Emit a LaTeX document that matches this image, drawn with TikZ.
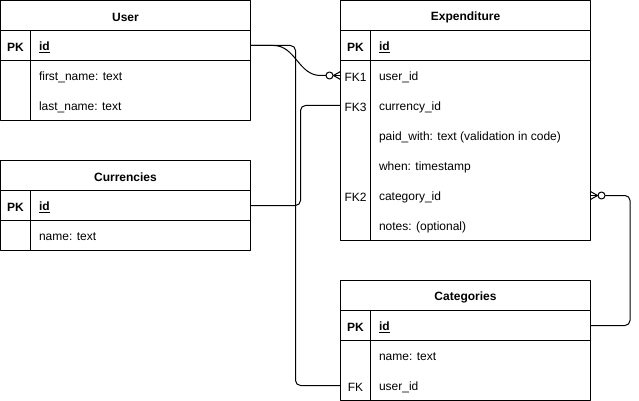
\documentclass[tikz,border=0pt]{standalone}
\usepackage{fontspec}
\setmainfont{Liberation Sans}
\begin{document}
\begin{tikzpicture}[x=1pt,y=-1pt, line width=1pt, line join=round,
  font=\fontsize{12}{14}\selectfont,
  hdr/.style={draw, anchor=north west, inner sep=0pt, outer sep=0pt, minimum height=30pt, minimum width=250pt},
  hdrt/.style={anchor=center, inner sep=0pt, yshift=-1.5pt, font=\fontsize{12}{14}\selectfont\bfseries},
  rowbox/.style={anchor=north west, inner sep=0pt, outer sep=0pt, minimum height=30pt, minimum width=250pt},
  keyt/.style={anchor=center, inner sep=0pt, yshift=-1.5pt},
  fld/.style={anchor=west, inner sep=0pt, yshift=-1.5pt},
  conn/.style={line width=1pt, rounded corners=5pt},
  zmany/.pic={\draw (0,-4) -- (-7,0) -- (0,4); \draw (0,0) -- (-7,0); \draw[fill=white] (-11,0) circle[radius=3.5pt];}
]
\useasboundingbox (0,0) rectangle (639,401);

% ---------------- User ----------------
\node[hdr] (user) at (0.5,0.5) {};
\node[hdrt] (user-t) at (user.center) {User};
\node[rowbox, draw] (user-id) at (0.5,30.5) {};
\node[rowbox] (user-r1) at (0.5,60.5) {};
\node[rowbox] (user-r2) at (0.5,90.5) {};
\draw (user-id.south west) rectangle (user-r2.south east);
\draw ([xshift=30pt]user-id.north west) -- ([xshift=30pt]user-r2.south west);
\node[keyt, font=\fontsize{12}{14}\selectfont\bfseries] (user-pk) at ([xshift=15pt]user-id.west) {PK};
\node[fld] (user-idt) at ([xshift=38pt]user-id.west) {\textbf{\underline{id}}};
\node[fld] (user-r1t) at ([xshift=38pt]user-r1.west) {first\_name: text};
\node[fld] (user-r2t) at ([xshift=38pt]user-r2.west) {last\_name: text};

% ---------------- Currencies ----------------
\node[hdr] (cur) at (0.5,160.5) {};
\node[hdrt] (cur-t) at (cur.center) {Currencies};
\node[rowbox, draw] (cur-id) at (0.5,190.5) {};
\node[rowbox, draw] (cur-r1) at (0.5,220.5) {};
\draw ([xshift=30pt]cur-id.north west) -- ([xshift=30pt]cur-r1.south west);
\node[keyt, font=\fontsize{12}{14}\selectfont\bfseries] (cur-pk) at ([xshift=15pt]cur-id.west) {PK};
\node[fld] (cur-idt) at ([xshift=38pt]cur-id.west) {\textbf{\underline{id}}};
\node[fld] (cur-r1t) at ([xshift=38pt]cur-r1.west) {name: text};

% ---------------- Expenditure ----------------
\node[hdr] (exp) at (340.5,0.5) {};
\node[hdrt] (exp-t) at (exp.center) {Expenditure};
\node[rowbox, draw] (exp-id) at (340.5,30.5) {};
\node[rowbox] (exp-r1) at (340.5,60.5) {};
\node[rowbox] (exp-r2) at (340.5,90.5) {};
\node[rowbox] (exp-r3) at (340.5,120.5) {};
\node[rowbox] (exp-r4) at (340.5,150.5) {};
\node[rowbox] (exp-r5) at (340.5,180.5) {};
\node[rowbox] (exp-r6) at (340.5,210.5) {};
\draw (exp-id.south west) rectangle (exp-r6.south east);
\draw ([xshift=30pt]exp-id.north west) -- ([xshift=30pt]exp-r6.south west);
\node[keyt, font=\fontsize{12}{14}\selectfont\bfseries] (exp-pk) at ([xshift=15pt]exp-id.west) {PK};
\node[fld] (exp-idt) at ([xshift=38pt]exp-id.west) {\textbf{\underline{id}}};
\node[keyt] (exp-k1) at ([xshift=15pt]exp-r1.west) {FK1};
\node[fld] (exp-r1t) at ([xshift=38pt]exp-r1.west) {user\_id};
\node[keyt] (exp-k2) at ([xshift=15pt]exp-r2.west) {FK3};
\node[fld] (exp-r2t) at ([xshift=38pt]exp-r2.west) {currency\_id};
\node[fld] (exp-r3t) at ([xshift=38pt]exp-r3.west) {paid\_with: text (validation in code)};
\node[fld] (exp-r4t) at ([xshift=38pt]exp-r4.west) {when: timestamp};
\node[keyt] (exp-k5) at ([xshift=15pt]exp-r5.west) {FK2};
\node[fld] (exp-r5t) at ([xshift=38pt]exp-r5.west) {category\_id};
\node[fld] (exp-r6t) at ([xshift=38pt]exp-r6.west) {notes: (optional)};

% ---------------- Categories ----------------
\node[hdr] (cat) at (340.5,280.5) {};
\node[hdrt] (cat-t) at (cat.center) {Categories};
\node[rowbox, draw] (cat-id) at (340.5,310.5) {};
\node[rowbox] (cat-r1) at (340.5,340.5) {};
\node[rowbox] (cat-r2) at (340.5,370.5) {};
\draw (cat-id.south west) rectangle (cat-r2.south east);
\draw ([xshift=30pt]cat-id.north west) -- ([xshift=30pt]cat-r2.south west);
\node[keyt, font=\fontsize{12}{14}\selectfont\bfseries] (cat-pk) at ([xshift=15pt]cat-id.west) {PK};
\node[fld] (cat-idt) at ([xshift=38pt]cat-id.west) {\textbf{\underline{id}}};
\node[fld] (cat-r1t) at ([xshift=38pt]cat-r1.west) {name: text};
\node[keyt] (cat-k2) at ([xshift=15pt]cat-r2.west) {FK};
\node[fld] (cat-r2t) at ([xshift=38pt]cat-r2.west) {user\_id};

% ---------------- Connectors ----------------
% User.id -> Categories.user_id
\draw[conn] (user-id.east) -- ++(45,0) |- (cat-r2.west);
% Currencies.id -> Expenditure.currency_id
\draw[conn] (cur-id.east) -- ++(50,0) |- (exp-r2.west);
% User.id -> Expenditure.user_id (zero or many)
\draw (user-id.east) -- ++(23,0) .. controls +(22,0) and +(-22,0) .. ([xshift=-20pt]exp-r1.west) -- ([xshift=-14.5pt]exp-r1.west);
\pic at (exp-r1.west) {zmany};
% Expenditure.category_id -> Categories.id (zero or many)
\draw[conn] ([xshift=14.5pt]exp-r5.east) -- ++(25,0) |- (cat-id.east);
\pic[rotate=180] at (exp-r5.east) {zmany};
\end{tikzpicture}
\end{document}
